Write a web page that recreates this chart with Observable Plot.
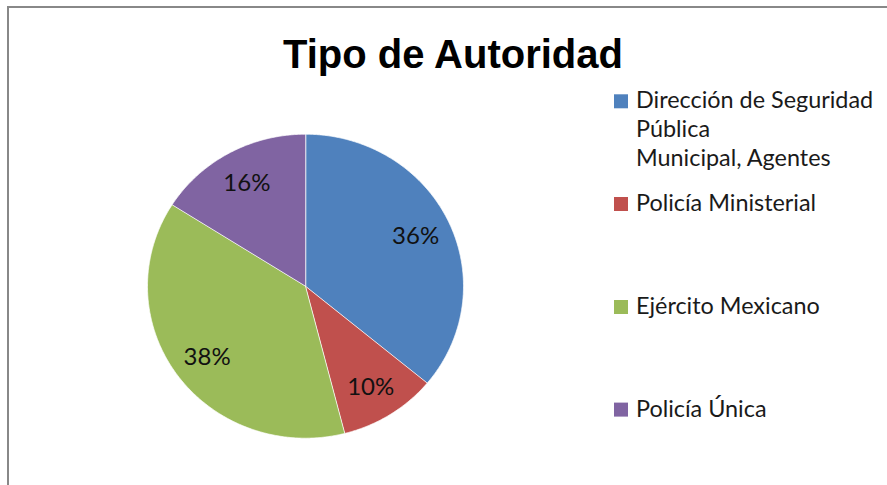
<!DOCTYPE html>
<html>
<head>
<meta charset="utf-8">
<script src="https://cdn.jsdelivr.net/npm/d3@7"></script>
<script src="https://cdn.jsdelivr.net/npm/@observablehq/plot@0.6"></script>
<style>
  html, body { margin: 0; padding: 0; background: #fff; }
  #wrap { position: relative; width: 887px; height: 485px; overflow: hidden; background: #fff; }
  #wrap > * { position: absolute; left: 0; top: 0; }
  #frame { left: 7px; top: 6px; width: 900px; height: 500px; border-left: 2.5px solid #888; border-top: 2.5px solid #888; box-sizing: border-box; }
</style>
</head>
<body>
<div id="wrap"><div id="frame"></div></div>
<script>
const title = "Tipo de Autoridad";
const categories = ["Dirección de Seguridad Pública Municipal, Agentes", "Policía Ministerial", "Ejército Mexicano", "Policía Única"];
const legendLines = [["Dirección de Seguridad", "Pública", "Municipal, Agentes"], ["Policía Ministerial"], ["Ejército Mexicano"], ["Policía Única"]];
const values = [36, 10, 38, 16];
const colors = ["#4f81bd", "#c0504d", "#9bbb59", "#8064a2"];
const pctLabels = ["36%", "10%", "38%", "16%"];

const W = 887, H = 485;
const cx = 305, cy = 285.7, rx = 158, ry = 152;

const arcs = d3.pie().sort(null).value(d => d)(values);
const pts = [];
arcs.forEach((a, i) => {
  pts.push({x: 0, y: 0, cat: categories[i]});
  const n = Math.max(2, Math.ceil((a.endAngle - a.startAngle) / (Math.PI / 360)));
  for (let k = 0; k <= n; k++) {
    const t = a.startAngle + (a.endAngle - a.startAngle) * k / n;
    pts.push({x: Math.sin(t), y: Math.cos(t), cat: categories[i]});
  }
});
const labelPts = arcs.map((a, i) => {
  const m = (a.startAngle + a.endAngle) / 2;
  return {x: 0.77 * Math.sin(m), y: 0.78 * Math.cos(m), label: pctLabels[i]};
});

const chart = Plot.plot({
  width: W, height: H,
  marginLeft: cx - rx, marginRight: W - (cx + rx),
  marginTop: cy - ry, marginBottom: H - (cy + ry),
  x: {domain: [-1, 1], axis: null},
  y: {domain: [-1, 1], axis: null},
  color: {domain: categories, range: colors},
  style: {background: "transparent", overflow: "visible"},
  marks: [
    Plot.line(pts, {x: "x", y: "y", z: "cat", fill: "cat", stroke: "#fff", strokeOpacity: 0.7, strokeWidth: 1, curve: "linear-closed"}),
    Plot.text(labelPts, {x: "x", y: "y", text: "label", fill: "#111", fontSize: 24, fontFamily: "Lato", dy: 1})
  ]
});
document.getElementById("wrap").appendChild(chart);

// Title and legend overlay
const ov = d3.select("#wrap").append("svg").attr("width", W).attr("height", H);
ov.append("text").attr("x", 453).attr("y", 68).attr("text-anchor", "middle")
  .attr("font-family", "Liberation Sans, Arial, sans-serif").attr("font-weight", "bold")
  .attr("font-size", 40).attr("fill", "#000").text(title);

const baselines = [108.3, 211, 314, 416.6];
legendLines.forEach((lines, i) => {
  const g = ov.append("g");
  g.append("rect").attr("x", 614).attr("y", baselines[i] - 14).attr("width", 14).attr("height", 14).attr("fill", colors[i]);
  lines.forEach((ln, j) => {
    g.append("text").attr("x", 636).attr("y", baselines[i] + 29 * j)
      .attr("font-family", "Lato, sans-serif").attr("font-size", 23.4).attr("fill", "#1a1a1a").text(ln);
  });
});
</script>
</body>
</html>
